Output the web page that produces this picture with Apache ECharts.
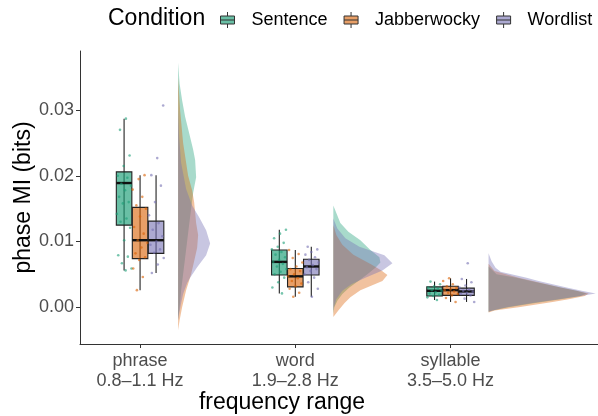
<!DOCTYPE html>
<html>
<head>
<meta charset="utf-8">
<script src="https://cdn.jsdelivr.net/npm/echarts@6/dist/echarts.min.js"></script>
<style>
  html, body { margin: 0; padding: 0; background: #fff; }
  #chart { width: 598px; height: 416px; }
</style>
</head>
<body>
<div id="chart"></div>
<script>
// categories
var bands = ['phrase\n0.8–1.1 Hz', 'word\n1.9–2.8 Hz', 'syllable\n3.5–5.0 Hz'];
var conditions = ['Sentence', 'Jabberwocky', 'Wordlist'];
var yTicks = [0, 0.01, 0.02, 0.03];

// box stats per band: [lower whisker, q1, median, q3, upper whisker]
var sentenceBox = [
  [0.0056, 0.0125, 0.0189, 0.0206, 0.0287],
  [0.0021, 0.0049, 0.0069, 0.0087, 0.0118],
  [0.0011, 0.0017, 0.0025, 0.0031, 0.0039]
];
var jabberwockyBox = [
  [0.0026, 0.0074, 0.0102, 0.0152, 0.0201],
  [0.0016, 0.0031, 0.0047, 0.0059, 0.0087],
  [0.0008, 0.0018, 0.0026, 0.0032, 0.0044]
];
var wordlistBox = [
  [0.0052, 0.0082, 0.0102, 0.0131, 0.0201],
  [0.0016, 0.0049, 0.0062, 0.0073, 0.0092],
  [0.0008, 0.0018, 0.0024, 0.0029, 0.0043]
];

// individual subject values per band
var sentencePoints = [
  [0.0287, 0.0270, 0.0231, 0.0215, 0.0200, 0.0197, 0.0188, 0.0185, 0.0178, 0.0168, 0.0160, 0.0158, 0.0142, 0.0135, 0.0130, 0.0121, 0.0102, 0.0079, 0.0077, 0.0067, 0.0059, 0.0056],
  [0.0118, 0.0112, 0.0105, 0.0098, 0.0092, 0.0088, 0.0084, 0.0080, 0.0076, 0.0072, 0.0069, 0.0066, 0.0062, 0.0058, 0.0054, 0.0050, 0.0045, 0.0038, 0.0030, 0.0021],
  [0.0039, 0.0035, 0.0032, 0.0030, 0.0028, 0.0026, 0.0025, 0.0023, 0.0021, 0.0019, 0.0017, 0.0015, 0.0011]
];
var jabberwockyPoints = [
  [0.0201, 0.0195, 0.0179, 0.0168, 0.0155, 0.0150, 0.0138, 0.0122, 0.0112, 0.0102, 0.0098, 0.0091, 0.0082, 0.0076, 0.0072, 0.0059, 0.0046, 0.0026],
  [0.0087, 0.0081, 0.0075, 0.0068, 0.0062, 0.0058, 0.0055, 0.0050, 0.0047, 0.0044, 0.0040, 0.0036, 0.0032, 0.0028, 0.0022, 0.0016],
  [0.0044, 0.0040, 0.0035, 0.0032, 0.0029, 0.0027, 0.0026, 0.0024, 0.0022, 0.0020, 0.0018, 0.0014, 0.0008]
];
var wordlistPoints = [
  [0.0307, 0.0227, 0.0201, 0.0185, 0.0160, 0.0140, 0.0128, 0.0118, 0.0108, 0.0100, 0.0095, 0.0088, 0.0083, 0.0075, 0.0065, 0.0052],
  [0.0092, 0.0088, 0.0084, 0.0080, 0.0076, 0.0072, 0.0068, 0.0064, 0.0061, 0.0058, 0.0055, 0.0050, 0.0045, 0.0038, 0.0028, 0.0016],
  [0.0067, 0.0043, 0.0038, 0.0033, 0.0030, 0.0027, 0.0025, 0.0024, 0.0022, 0.0020, 0.0018, 0.0013, 0.0008]
];

// half-violin density profiles per band: [value, density]
var sentenceDensity = [
  [[0.0372, 0], [0.034, 1.5], [0.0315, 4], [0.029, 7], [0.0265, 11], [0.024, 15], [0.0224, 17], [0.0198, 18], [0.0174, 15], [0.015, 13], [0.0125, 11], [0.010, 9], [0.0075, 7], [0.005, 5], [0.0025, 3], [0.0, 1.5], [-0.002, 0]],
  [[0.0155, 0], [0.0128, 7], [0.0115, 15], [0.0102, 27], [0.0087, 37], [0.0076, 46], [0.0068, 47], [0.006, 42], [0.005, 34], [0.004, 25], [0.003, 16], [0.002, 9], [0.001, 4], [0.0, 1], [-0.001, 0]],
  [[0.0062, 0], [0.005, 8], [0.0045, 28], [0.004, 42], [0.0035, 57], [0.003, 72], [0.0025, 88], [0.0021, 98], [0.0017, 92], [0.0012, 72], [0.0006, 45], [0.0, 20], [-0.0005, 4], [-0.0007, 0]]
];
var jabberwockyDensity = [
  [[0.035, 0], [0.030, 2], [0.025, 5], [0.020, 10], [0.0178, 14], [0.016, 16], [0.0128, 18], [0.011, 20], [0.009, 19], [0.007, 16], [0.005, 13], [0.0026, 8], [0.0, 4], [-0.002, 1.5], [-0.0035, 0]],
  [[0.0125, 0], [0.011, 3], [0.0095, 9], [0.008, 20], [0.0065, 38], [0.0056, 48], [0.0049, 54], [0.004, 49], [0.0026, 27], [0.0015, 17], [0.0006, 11], [-0.0005, 5], [-0.0015, 0]],
  [[0.0066, 0], [0.0055, 6], [0.0045, 30], [0.004, 44], [0.0035, 58], [0.003, 72], [0.0025, 88], [0.0021, 100], [0.0017, 96], [0.0012, 80], [0.0008, 64], [0.0, 30], [-0.0005, 6], [-0.0008, 0]]
];
var wordlistDensity = [
  [[0.030, 0], [0.026, 1], [0.022, 3], [0.018, 8], [0.0155, 14], [0.0137, 21], [0.0117, 28], [0.0097, 32], [0.0079, 28], [0.0061, 19], [0.0045, 12], [0.0037, 9], [0.002, 5], [0.0006, 3], [-0.001, 1], [-0.002, 0]],
  [[0.0135, 0], [0.012, 4], [0.0105, 12], [0.0092, 26], [0.0079, 51], [0.0067, 59], [0.0056, 49], [0.0045, 32], [0.0035, 18], [0.0025, 9], [0.0012, 3], [0.0, 0.5], [-0.0005, 0]],
  [[0.0082, 0], [0.007, 3], [0.006, 7], [0.0054, 12], [0.0045, 38], [0.004, 50], [0.0035, 64], [0.003, 78], [0.0025, 93], [0.0021, 107], [0.0017, 92], [0.0012, 70], [0.0006, 42], [0.0, 18], [-0.0005, 4], [-0.0007, 0]]
];

var boxes = [sentenceBox, jabberwockyBox, wordlistBox];
var points = [sentencePoints, jabberwockyPoints, wordlistPoints];
var densities = [sentenceDensity, jabberwockyDensity, wordlistDensity];

var lineColors = ['#1b9e77', '#d95f02', '#7570b3'];
var boxFills = ['rgba(27,158,119,0.66)', 'rgba(217,95,2,0.6)', 'rgba(117,112,179,0.6)'];
var violinFills = ['rgba(27,158,119,0.38)', 'rgba(217,95,2,0.38)', 'rgba(117,112,179,0.4)'];
var dodge = [-0.103, 0, 0.103];
var boxWidth = 0.1;
var violinOffset = 0.245;
var violinScale = 1 / 155;
var font = 'Liberation Sans';

var chart = echarts.init(document.getElementById('chart'));

function violinSeries(c) {
  return {
    name: conditions[c],
    type: 'custom',
    z: 1,
    silent: true,
    data: bands.map(function (b, i) { return [i]; }),
    renderItem: function (params, api) {
      var band = api.value(0);
      var base = band + 1 + violinOffset;
      var prof = densities[c][band];
      var pts = [api.coord([base, prof[0][0]])];
      prof.forEach(function (p) {
        pts.push(api.coord([base + p[1] * violinScale, p[0]]));
      });
      pts.push(api.coord([base, prof[prof.length - 1][0]]));
      return {
        type: 'polygon',
        shape: { points: pts },
        style: { fill: violinFills[c], stroke: null }
      };
    }
  };
}

function boxSeries(c) {
  return {
    name: conditions[c],
    type: 'custom',
    z: 2,
    itemStyle: { color: boxFills[c], borderColor: '#222', borderWidth: 1 },
    data: boxes[c].map(function (s, i) { return [i].concat(s); }),
    renderItem: function (params, api) {
      var cx = api.value(0) + 1 + dodge[c];
      var lo = api.coord([cx, api.value(1)]);
      var q1 = api.coord([cx, api.value(2)]);
      var md = api.coord([cx, api.value(3)]);
      var q3 = api.coord([cx, api.value(4)]);
      var hi = api.coord([cx, api.value(5)]);
      var half = api.size([boxWidth, 0])[0] / 2;
      return {
        type: 'group',
        children: [
          { type: 'line', shape: { x1: lo[0], y1: lo[1], x2: hi[0], y2: hi[1] }, style: { stroke: '#222', lineWidth: 1.1 } },
          { type: 'rect', shape: { x: q3[0] - half, y: q3[1], width: half * 2, height: q1[1] - q3[1] }, style: { fill: boxFills[c], stroke: '#222', lineWidth: 1.1 } },
          { type: 'line', shape: { x1: md[0] - half, y1: md[1], x2: md[0] + half, y2: md[1] }, style: { stroke: '#111', lineWidth: 2.4 } }
        ]
      };
    }
  };
}

function pointSeries(c) {
  var data = [];
  points[c].forEach(function (vals, band) {
    vals.forEach(function (v, i) {
      var jit = (((i + 1) * 0.618034 + band * 0.31 + c * 0.17) % 1 - 0.5) * 0.1;
      data.push([band + 1 + dodge[c] + jit, v]);
    });
  });
  return {
    name: conditions[c],
    type: 'scatter',
    z: 3,
    silent: true,
    symbolSize: 2.6,
    itemStyle: { color: lineColors[c], opacity: 0.6 },
    data: data
  };
}

var series = [];
[0, 1, 2].forEach(function (c) { series.push(violinSeries(c)); });
[0, 1, 2].forEach(function (c) { series.push(boxSeries(c)); });
[0, 1, 2].forEach(function (c) { series.push(pointSeries(c)); });

chart.setOption({
  animation: false,
  backgroundColor: '#fff',
  textStyle: { fontFamily: font },
  title: {
    text: 'Condition',
    left: 108,
    top: 7,
    padding: 0,
    textStyle: { fontFamily: font, fontSize: 23, fontWeight: 'normal', color: '#000' }
  },
  legend: {
    left: 220,
    top: 11,
    width: 378,
    padding: 0,
    itemWidth: 16,
    itemHeight: 16,
    itemGap: 16,
    selectedMode: false,
    formatter: function (name) { return '{t|' + name + '}'; },
    textStyle: {
      fontFamily: font,
      fontSize: 18,
      color: '#000',
      rich: { t: { fontFamily: font, fontSize: 18, color: '#000', padding: [0, 0, 0, 11] } }
    },
    data: conditions.map(function (name, c) {
      return {
        name: name,
        icon: 'path://M8,0V4M8,12V16M1,4H15V12H1ZM1,8H15',
        itemStyle: { color: boxFills[c], borderColor: '#333', borderWidth: 1 }
      };
    })
  },
  grid: { left: 80, right: 0, top: 51, bottom: 72, containLabel: false, outerBoundsMode: 'none' },
  xAxis: {
    type: 'value',
    min: 0.613,
    max: 3.95,
    name: 'frequency range',
    nameLocation: 'middle',
    nameGap: 47,
    nameMoveOverlap: false,
    nameTextStyle: { fontFamily: font, fontSize: 23, color: '#000', padding: [0, 114, 0, 0] },
    splitLine: { show: false },
    axisLine: { show: true, onZero: false, lineStyle: { color: '#333', width: 1 } },
    axisTick: { show: true, length: 4, customValues: [1, 2, 3], lineStyle: { color: '#333' } },
    axisLabel: {
      customValues: [1, 2, 3],
      margin: 7,
      fontFamily: font,
      fontSize: 18,
      lineHeight: 20,
      color: '#4d4d4d',
      formatter: function (v) { return bands[Math.round(v) - 1]; }
    }
  },
  yAxis: {
    type: 'value',
    min: -0.0056,
    max: 0.039,
    name: 'phase MI (bits)',
    nameLocation: 'middle',
    nameGap: 45,
    nameMoveOverlap: false,
    nameTextStyle: { fontFamily: font, fontSize: 23, color: '#000' },
    splitLine: { show: false },
    axisLine: { show: true, onZero: false, lineStyle: { color: '#333', width: 1 } },
    axisTick: { show: true, length: 4, customValues: yTicks, lineStyle: { color: '#333' } },
    axisLabel: {
      customValues: yTicks,
      margin: 6,
      fontFamily: font,
      fontSize: 18,
      color: '#4d4d4d',
      formatter: function (v) { return v.toFixed(2); }
    }
  },
  series: series
});
</script>
</body>
</html>
